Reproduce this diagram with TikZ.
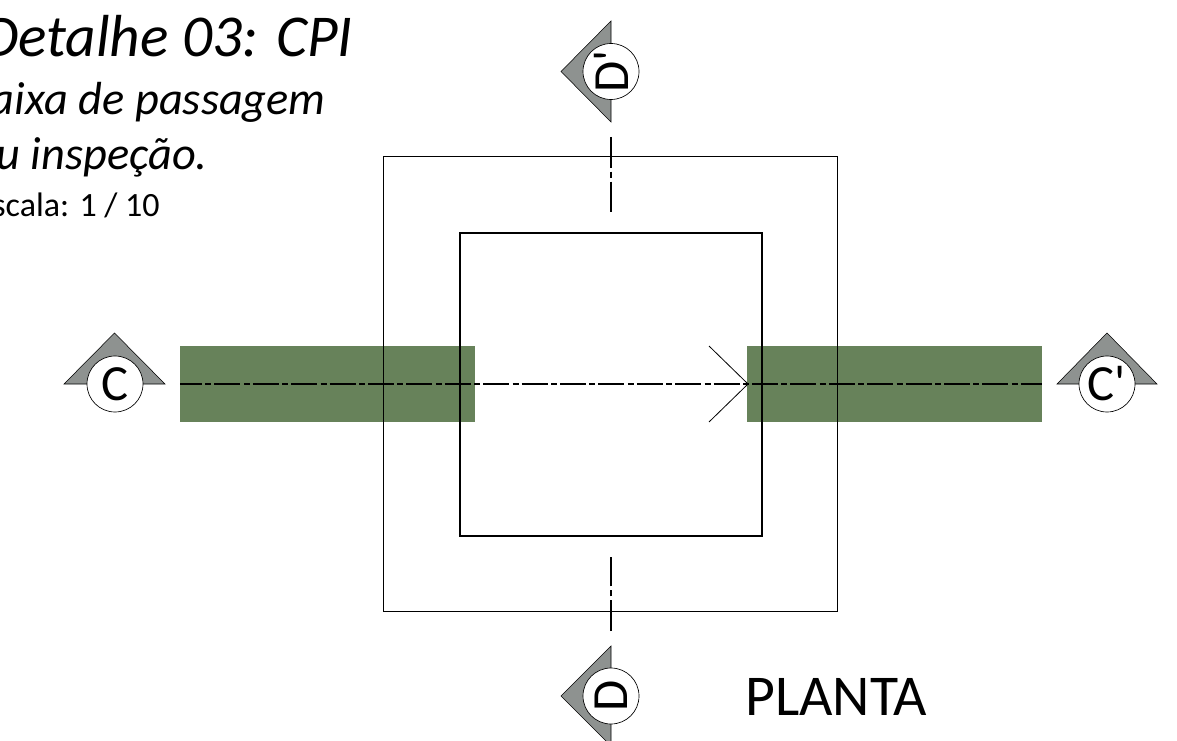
\documentclass[tikz,border=0pt]{standalone}
\usepackage{fontspec}
\setmainfont{Carlito}
\usepackage{xcolor}
\usetikzlibrary{positioning}
\definecolor{pipegreen}{HTML}{67825A}
\definecolor{markgray}{HTML}{8E9290}
\tikzset{
	every node/.style = {inner sep = 0},
	wall/.style = {draw, line width=0.75pt, minimum width=340.5pt, minimum height=340.5pt},
	innerwall/.style = {draw, line width=1.5pt, minimum width=226.5pt, minimum height=227pt},
	pipe/.style = {fill=pipegreen, minimum width=221.25pt, minimum height=57pt},
	axisline/.style = {line width=1.6pt, dash pattern=on 19.5pt off 2.6pt on 4.4pt off 2.3pt},
	vertaxis/.style = {line width=1.6pt, dash pattern=on 23pt off 3pt on 4.5pt off 3pt},
	markcirc/.style = {circle, draw, fill=white, line width=0.5pt, minimum size=42pt, font=\fontsize{38}{38}\selectfont},
	marktri/.style = {fill=markgray, draw=black, line width=0.4pt},
	title/.style = {anchor=base east, font=\fontsize{44.5}{44.5}\selectfont\itshape},
	subtitle/.style = {anchor=base east, font=\fontsize{34.8}{34.8}\selectfont\itshape}
}
\begin{document}
\begin{tikzpicture}[x=0.75pt, y=-0.75pt]
		\useasboundingbox[clip] (0,0) rectangle (1177,741);

		% tubos
		\node[pipe] (pipeleft) at (327.5,384) {};
		\node[pipe] (piperight) at (894.5,384) {};

		% caixa
		\node[wall] (outerbox) at (610.9,384) {};
		\node[innerwall] (innerbox) at (610.6,384.5) {};

		% eixos
		\coordinate (axisC) at (180,384);
		\coordinate (axisCp) at (1042,384);
		\coordinate (axisDpA) at (611,137);
		\coordinate (axisDpB) at (611,212);
		\coordinate (axisDA) at (611,631);
		\coordinate (axisDB) at (611,557);
		\draw[axisline, dash phase=3pt] (axisC) -- (axisCp);
		\draw[vertaxis] (axisDpA) -- (axisDpB);
		\draw[vertaxis] (axisDA) -- (axisDB);

		% seta
		\coordinate (tip) at (748,384);
		\coordinate (tipup) at (709,346);
		\coordinate (tipdown) at (709,422);
		\draw[line width=0.6pt] (tipup) -- (tip) -- (tipdown);

		% marcadores
		\draw[marktri] (64,384) -- (114.5,333) -- (165,384) -- cycle;
		\node[markcirc] (markC) at (115,384) {C};
		\draw[marktri] (1057,384) -- (1107,333) -- (1157,384) -- cycle;
		\node[markcirc] (markCp) at (1107,384) {C\textquotesingle};
		\draw[marktri] (611,21) -- (561,71.5) -- (611,122) -- cycle;
		\node[markcirc, rotate=90] (markDp) at (611,71.5) {D\textquotesingle};
		\draw[marktri] (611,646) -- (561,696) -- (611,746) -- cycle;
		\node[markcirc, rotate=90] (markD) at (611,696) {D};

		% textos
		\node[title] (titleline) at (353,57) {Detalhe 03: CPI};
		\node[subtitle] (subline) at (326,115) {Caixa de passagem};
		\node[subtitle] (subtwo) at (208,170) {ou inspeção.};
		\node[anchor=base east, font=\fontsize{25.5}{25.5}\selectfont] (scaleline) at (160,217) {Escala: 1 / 10};
		\node[anchor=base west, font=\fontsize{43.3}{43.3}\selectfont] (planta) at (745,715) {PLANTA};
\end{tikzpicture}
\end{document}
